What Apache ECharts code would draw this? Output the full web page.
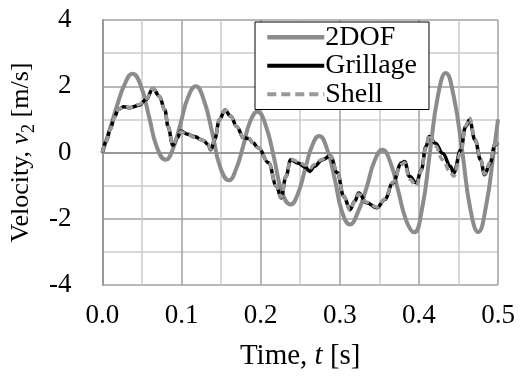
<!DOCTYPE html>
<html>
<head>
<meta charset="utf-8">
<script src="https://cdn.jsdelivr.net/npm/echarts@6/dist/echarts.min.js"></script>
<style>
  html, body { margin: 0; padding: 0; background: #fff; }
  #chart { width: 521px; height: 376px; }
</style>
</head>
<body>
<div id="chart"></div>
<script>
// 2DOF model (time in s, velocity in m/s)
let tDof = [0, 0.01, 0.019, 0.028, 0.038, 0.048, 0.059, 0.069, 0.08, 0.089, 0.099, 0.108, 0.118, 0.128, 0.139, 0.149, 0.16, 0.169, 0.178, 0.187, 0.196, 0.206, 0.217, 0.227, 0.238, 0.247, 0.256, 0.265, 0.274, 0.284, 0.294, 0.303, 0.313, 0.323, 0.334, 0.344, 0.354, 0.364, 0.374, 0.384, 0.394, 0.404, 0.414, 0.424, 0.434, 0.444, 0.455, 0.465, 0.475, 0.485, 0.4945, 0.5];
let vDof = [0, 0.75, 1.45, 2.05, 2.38, 2.05, 1.08, 0.15, -0.22, 0.1, 0.9, 1.65, 2.0, 1.6, 0.58, -0.45, -0.84, -0.5, 0.2, 0.95, 1.23, 0.85, -0.17, -1.2, -1.57, -1.25, -0.53, 0.2, 0.5, 0.1, -0.84, -1.8, -2.17, -1.8, -1.05, -0.25, 0.08, -0.3, -1.17, -2.05, -2.41, -1.7, 0.0, 1.7, 2.4, 1.7, 0.0, -1.7, -2.4, -1.6, 0.0, 1.0];

// Grillage and Shell share the same time points
let tFe = [0, 0.005, 0.01, 0.015, 0.02, 0.027, 0.035, 0.047, 0.055, 0.064, 0.072, 0.079, 0.083, 0.089, 0.095, 0.099, 0.108, 0.116, 0.128, 0.133, 0.137, 0.142, 0.148, 0.155, 0.162, 0.17, 0.178, 0.185, 0.19, 0.197, 0.21, 0.22, 0.226, 0.232, 0.238, 0.247, 0.257, 0.262, 0.268, 0.278, 0.288, 0.297, 0.305, 0.313, 0.319, 0.324, 0.334, 0.347, 0.357, 0.367, 0.378, 0.382, 0.388, 0.397, 0.403, 0.409, 0.413, 0.421, 0.43, 0.44, 0.444, 0.453, 0.459, 0.464, 0.471, 0.478, 0.483, 0.49, 0.496, 0.5];
let vGrillage = [0, 0.35, 0.7, 1.05, 1.3, 1.38, 1.35, 1.43, 1.6, 1.93, 1.7, 1.28, 0.78, 0.22, 0.45, 0.65, 0.55, 0.48, 0.36, 0.25, 0.08, 0.4, 1.0, 1.28, 1.1, 0.78, 0.45, 0.42, 0.3, 0.14, -0.31, -1.02, -1.37, -0.72, -0.22, -0.32, -0.45, -0.57, -0.42, -0.22, -0.1, -0.61, -1.32, -1.72, -1.47, -1.22, -1.52, -1.67, -1.42, -0.92, -0.32, -0.27, -0.72, -0.92, -0.52, 0.18, 0.48, 0.28, -0.02, -0.42, -0.62, 0.08, 0.78, 0.98, 0.38, -0.22, -0.67, -0.32, 0.23, 0.3];
let vShell = [0, 0.35, 0.7, 1.05, 1.3, 1.38, 1.36, 1.45, 1.62, 1.93, 1.7, 1.28, 0.78, 0.24, 0.45, 0.63, 0.55, 0.46, 0.36, 0.25, 0.1, 0.4, 1.0, 1.28, 1.1, 0.78, 0.45, 0.42, 0.3, 0.14, -0.31, -1.02, -1.35, -0.72, -0.2, -0.27, -0.38, -0.48, -0.36, -0.2, -0.1, -0.61, -1.32, -1.75, -1.47, -1.25, -1.5, -1.65, -1.4, -0.9, -0.36, -0.3, -0.8, -1.0, -0.55, 0.15, 0.55, 0.2, -0.22, -0.6, -0.72, 0.0, 0.8, 1.05, 0.4, -0.2, -0.65, -0.3, 0.25, 0.3];

let xTicks = [0, 0.1, 0.2, 0.3, 0.4, 0.5];
let yTicks = [-4, -2, 0, 2, 4];

let font = 'Liberation Serif';

function pairs(ts, vs) {
    return ts.map((t, i) => [t, vs[i]]);
}

let myChart = echarts.init(document.getElementById('chart'));

myChart.setOption({
    animation: false,
    grid: { left: 97, right: 23, top: 20, bottom: 91 },
    legend: {
        left: 255, top: 22,
        orient: 'vertical',
        backgroundColor: '#fff',
        borderColor: '#000',
        borderWidth: 1,
        padding: [1, 12, 1, 10],
        itemGap: 0,
        itemWidth: 57,
        itemHeight: 14,
        itemStyle: { opacity: 0 },
        textStyle: { fontFamily: font, fontSize: 28, color: '#000', padding: [0, 0, 0, -4], lineHeight: 28.5 },
        data: [
            { name: '2DOF', lineStyle: { width: 4.5, color: '#8c8c8c' } },
            { name: 'Grillage', lineStyle: { width: 4, color: '#000' } },
            { name: 'Shell', lineStyle: { width: 4, color: '#999999', type: [9, 5] } }
        ]
    },
    xAxis: {
        type: 'value',
        min: 0, max: 0.5, interval: 0.1,
        name: '{a|Time, }{i|t}{a| [s]}',
        nameLocation: 'middle',
        nameGap: 57,
        nameTextStyle: {
            rich: {
                a: { fontFamily: font, fontSize: 29, color: '#000' },
                i: { fontFamily: font, fontSize: 29, color: '#000', fontStyle: 'italic' }
            }
        },
        axisLine: { lineStyle: { color: '#999', width: 2 } },
        axisTick: { show: false },
        axisLabel: {
            margin: 17,
            fontFamily: font, fontSize: 27, color: '#000',
            formatter: v => xTicks.includes(Math.round(v * 10) / 10) ? v.toFixed(1) : ''
        },
        splitLine: { show: true, lineStyle: { color: '#a0a0a0', width: 1.5 } },
        minorTick: { show: false, splitNumber: 2 },
        minorSplitLine: { show: true, lineStyle: { color: '#cccccc', width: 1.5 } }
    },
    yAxis: {
        type: 'value',
        min: -4, max: 4, interval: 2,
        name: '{a|Velocity, }{i|v}{s|2}{a| [m/s]}',
        nameLocation: 'middle',
        nameGap: 58,
        nameTextStyle: {
            rich: {
                a: { fontFamily: font, fontSize: 26, color: '#000', lineHeight: 30, verticalAlign: 'top' },
                i: { fontFamily: font, fontSize: 26, color: '#000', fontStyle: 'italic', lineHeight: 30, verticalAlign: 'top' },
                s: { fontFamily: font, fontSize: 18, color: '#000', lineHeight: 18, verticalAlign: 'bottom' }
            }
        },
        axisLine: { show: true, lineStyle: { color: '#999', width: 2 } },
        axisTick: { show: false },
        axisLabel: {
            margin: 31,
            fontFamily: font, fontSize: 27, color: '#000',
            formatter: v => yTicks.includes(v) ? String(v) : ''
        },
        splitLine: { show: true, lineStyle: { color: '#a0a0a0', width: 1.5 } },
        minorTick: { show: false, splitNumber: 2 },
        minorSplitLine: { show: true, lineStyle: { color: '#cccccc', width: 1.5 } }
    },
    series: [
        {
            name: '2DOF', type: 'line',
            data: pairs(tDof, vDof),
            smooth: 0.5,
            symbol: 'none',
            lineStyle: { color: '#8c8c8c', width: 4 },
            itemStyle: { color: '#8c8c8c' },
            z: 2
        },
        {
            name: 'Grillage', type: 'line',
            data: pairs(tFe, vGrillage),
            smooth: 0.4, smoothMonotone: 'x',
            symbol: 'none',
            lineStyle: { color: '#000', width: 3.5 },
            itemStyle: { color: '#000' },
            z: 3
        },
        {
            name: 'Shell', type: 'line',
            data: pairs(tFe, vShell),
            smooth: 0.4, smoothMonotone: 'x',
            symbol: 'none',
            lineStyle: { color: '#999999', width: 3.5, type: [7, 4] },
            itemStyle: { color: '#999999' },
            z: 4
        }
    ]
});
</script>
</body>
</html>
